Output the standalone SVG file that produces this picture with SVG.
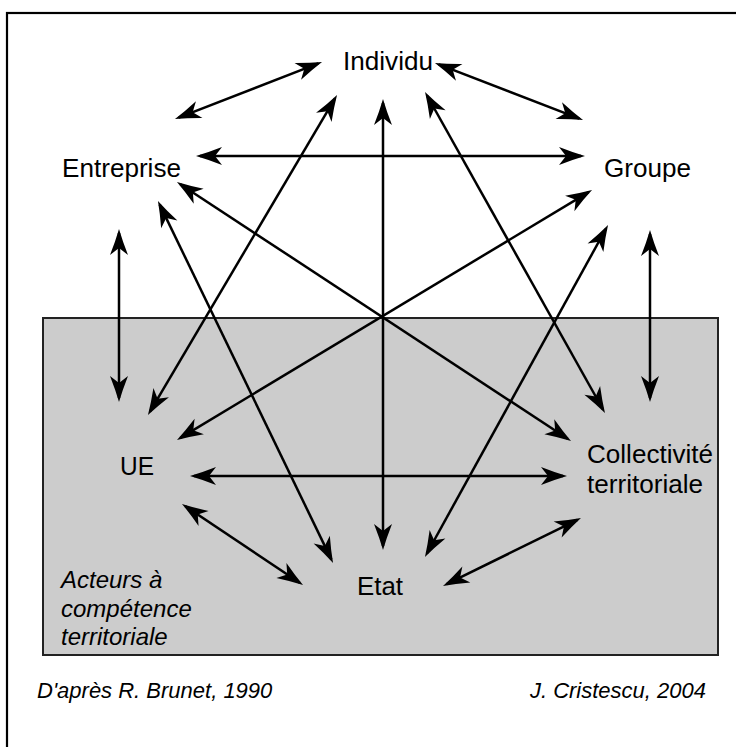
<svg xmlns="http://www.w3.org/2000/svg" width="736" height="747" viewBox="0 0 736 747">
<defs>
<marker id="ah" markerUnits="userSpaceOnUse" viewBox="-30 -10 32 20" markerWidth="32" markerHeight="20" refX="-4" refY="0" orient="auto-start-reverse" overflow="visible">
<path d="M0,0 Q-12,-3.5 -26,-9 L-19,0 L-26,9 Q-12,3.5 0,0 Z" fill="#000"/>
</marker>
</defs>
<style>
.lbl{font-family:"Liberation Sans",Arial,sans-serif;font-size:25px;fill:#000}
.it{font-family:"Liberation Sans",Arial,sans-serif;font-size:24px;font-style:italic;fill:#000}
.ft{font-family:"Liberation Sans",Arial,sans-serif;font-size:22px;font-style:italic;fill:#000}
.c line{stroke:#000;stroke-width:2.5;fill:none;marker-start:url(#ah);marker-end:url(#ah)}
</style>
<rect x="0" y="0" width="736" height="747" fill="#fff"/>
<rect id="frame" x="7" y="13" width="760" height="760" fill="none" stroke="#000" stroke-width="2.2"/>
<rect id="zone" x="43" y="318" width="675" height="337" fill="#cccccc" stroke="#222" stroke-width="2"/>
<g class="c" id="connectors">
<line x1="318.3" y1="63.4" x2="178.7" y2="117.6"/>
<line x1="438.7" y1="64.4" x2="579.3" y2="118.6"/>
<line x1="200" y1="156" x2="581" y2="156"/>
<line x1="119" y1="233" x2="119" y2="398"/>
<line x1="650" y1="234" x2="650" y2="398"/>
<line x1="194" y1="476" x2="563" y2="476"/>
<line x1="185.3" y1="506.2" x2="299.7" y2="582.8"/>
<line x1="446.6" y1="584.2" x2="577.4" y2="519.8"/>
<line x1="383" y1="103" x2="383" y2="546"/>
<line x1="335" y1="98.4" x2="150" y2="411.6"/>
<line x1="427" y1="95.5" x2="603" y2="409.5"/>
<line x1="180.3" y1="184.2" x2="567.7" y2="438.8"/>
<line x1="159.7" y1="204.6" x2="331.3" y2="559.4"/>
<line x1="588.6" y1="192.1" x2="180.4" y2="437.9"/>
<line x1="606.1" y1="228.5" x2="426.9" y2="553.5"/>
</g>
<g id="individu"><text class="lbl" x="343" y="70" textLength="90" lengthAdjust="spacingAndGlyphs">Individu</text></g>
<g id="entreprise"><text class="lbl" x="62" y="177" textLength="119" lengthAdjust="spacingAndGlyphs">Entreprise</text></g>
<g id="groupe"><text class="lbl" x="604" y="177" textLength="87" lengthAdjust="spacingAndGlyphs">Groupe</text></g>
<g id="ue"><text class="lbl" x="120" y="475" textLength="34" lengthAdjust="spacingAndGlyphs">UE</text></g>
<g id="etat"><text class="lbl" x="357" y="595" textLength="46" lengthAdjust="spacingAndGlyphs">Etat</text></g>
<g id="collectivite">
<text class="lbl" x="587" y="463" textLength="126" lengthAdjust="spacingAndGlyphs">Collectivité</text>
<text class="lbl" x="587" y="493" textLength="116" lengthAdjust="spacingAndGlyphs">territoriale</text>
</g>
<g id="legend">
<text class="it" x="61" y="588">Acteurs à</text>
<text class="it" x="61" y="617">compétence</text>
<text class="it" x="61" y="645">territoriale</text>
</g>
<g id="footer">
<text class="ft" x="37" y="698">D'après R. Brunet, 1990</text>
<text class="ft" x="706" y="698" text-anchor="end">J. Cristescu, 2004</text>
</g>
</svg>
